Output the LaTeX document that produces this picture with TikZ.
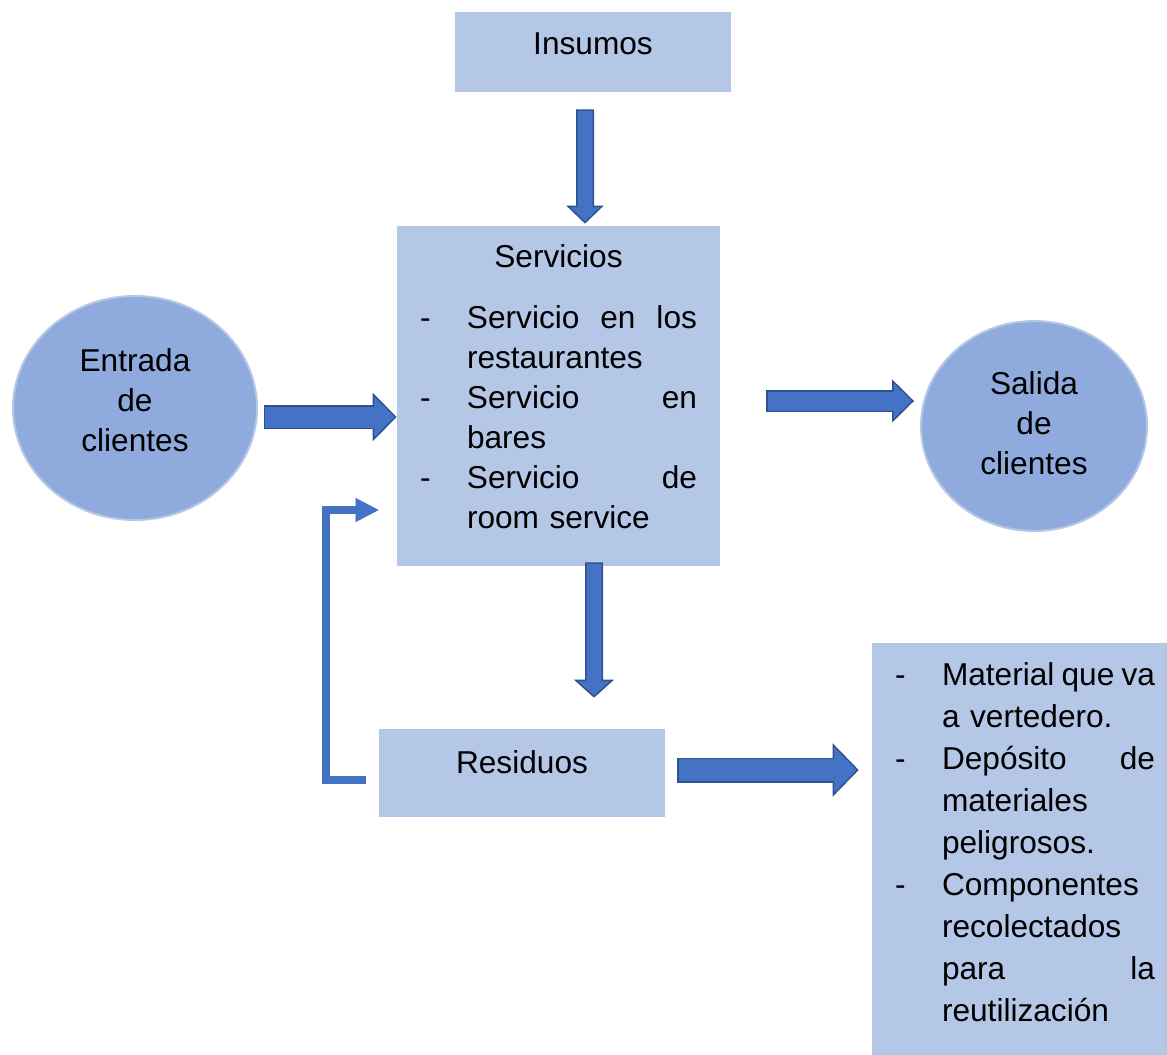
\documentclass[tikz,border=0pt]{standalone}
\usepackage{fontspec}
\setmainfont{Liberation Sans}
\usetikzlibrary{arrows.meta,calc,shapes.geometric}

\definecolor{boxblue}{HTML}{B4C7E7}
\definecolor{ellblue}{HTML}{8FAADC}
\definecolor{arrowmid}{HTML}{4472C4}
\definecolor{arrowdark}{HTML}{2F528F}

\newcommand{\itemdash}{\makebox[0.94cm][l]{-}}
\newcommand{\itemgap}{\hspace*{0.94cm}}

\tikzset{
 box/.style={rectangle, fill=boxblue, inner sep=0pt, text height=1.2ex, text depth=1.2ex, font=\fontsize{18}{22.8}\selectfont},
 bubble/.style={ellipse, fill=ellblue, draw=boxblue, line width=0.04cm, inner sep=0pt, align=center, font=\fontsize{18}{22.8}\selectfont},
 itemlist/.style={anchor=base west, inner sep=0pt, align=left, font=\fontsize{18}{#1}\selectfont},
 bigarrow/.style n args={3}{draw=arrowdark, line width=#1,
   -{Triangle[width=#2, length=#3, line width=0.03cm, fill=arrowmid]},
   postaction={draw=arrowmid, line width=#1-0.06cm, arrows=-, shorten <=0.03cm, shorten >=#3-0.03cm}},
 loopline/.style={draw=arrowmid, line width=0.16cm, -{Triangle[width=0.48cm, length=0.46cm, line width=0.01cm]}}
}

\begin{document}
\begin{tikzpicture}[x=0.02cm, y=-0.02cm]
\useasboundingbox (0,0) rectangle (1167,1055);

% boxes and bubbles
\node[box, minimum width=5.52cm, minimum height=1.6cm, text height=1.2ex+0.08cm] (ins) at (593,52) {Insumos};
\node[box, minimum width=6.46cm, minimum height=6.8cm] (serv) at (558.5,396) {};
\node[box, minimum width=5.72cm, minimum height=1.76cm] (res) at (522,773) {Residuos};
\node[box, minimum width=5.9cm, minimum height=8.24cm] (mat) at (1019.5,849) {};
\node[bubble, minimum width=4.88cm, minimum height=4.48cm, text depth=0.32cm] (ent) at (135,408) {Entrada\\de\\clientes};
\node[bubble, minimum width=4.52cm, minimum height=4.2cm, text depth=0.12cm] (sal) at (1034,426) {Salida\\de\\clientes};

% texts inside the boxes
\node[anchor=base, inner sep=0pt, font=\fontsize{18}{22.8}\selectfont] (servtitle) at ($(serv.north)+(0,42)$) {Servicios};
\node[itemlist=22.8, text width=5.54cm] (servlist) at ($(serv.north west)+(23,103)$) {%
 \itemdash Servicio\hfill en\hfill los\\
 \itemgap restaurantes\\
 \itemdash Servicio\hfill en\\
 \itemgap bares\\
 \itemdash Servicio\hfill de\\
 \itemgap room service};
\node[itemlist=23.9, text width=5.2cm] (matlist) at ($(mat.north west)+(23,43)$) {%
 \itemdash Material\hfill que\hfill va\\
 \itemgap a vertedero.\\
 \itemdash Depósito\hfill de\\
 \itemgap materiales\\
 \itemgap peligrosos.\\
 \itemdash Componentes\\
 \itemgap recolectados\\
 \itemgap para\hfill la\\
 \itemgap reutilización};

% block arrows
\draw[bigarrow={0.36cm}{0.74cm}{0.36cm}] ($(ins.south)+(-8,17)$) -- ($(serv.north)+(26.5,-2)$);
\draw[bigarrow={0.48cm}{0.96cm}{0.48cm}] ($(ent.east)+(6,9)$) -- ($(serv.west)+(0,21)$);
\draw[bigarrow={0.44cm}{0.86cm}{0.44cm}] ($(serv.east)+(46,5)$) -- ($(sal.west)+(-6,-25)$);
\draw[bigarrow={0.36cm}{0.80cm}{0.36cm}] ($(serv.south)+(35.5,-4)$) -- ($(res.north)+(72,-31)$);
\draw[bigarrow={0.5cm}{1.06cm}{0.52cm}] ($(res.east)+(12,-3)$) -- ($(mat.west)+(-13,-79)$);

% feedback
\draw[loopline] ($(res.west)+(-13,7)$) -| ($(serv.west)+(-71,114)$) -- ($(serv.west)+(-18,114)$);
\end{tikzpicture}
\end{document}
